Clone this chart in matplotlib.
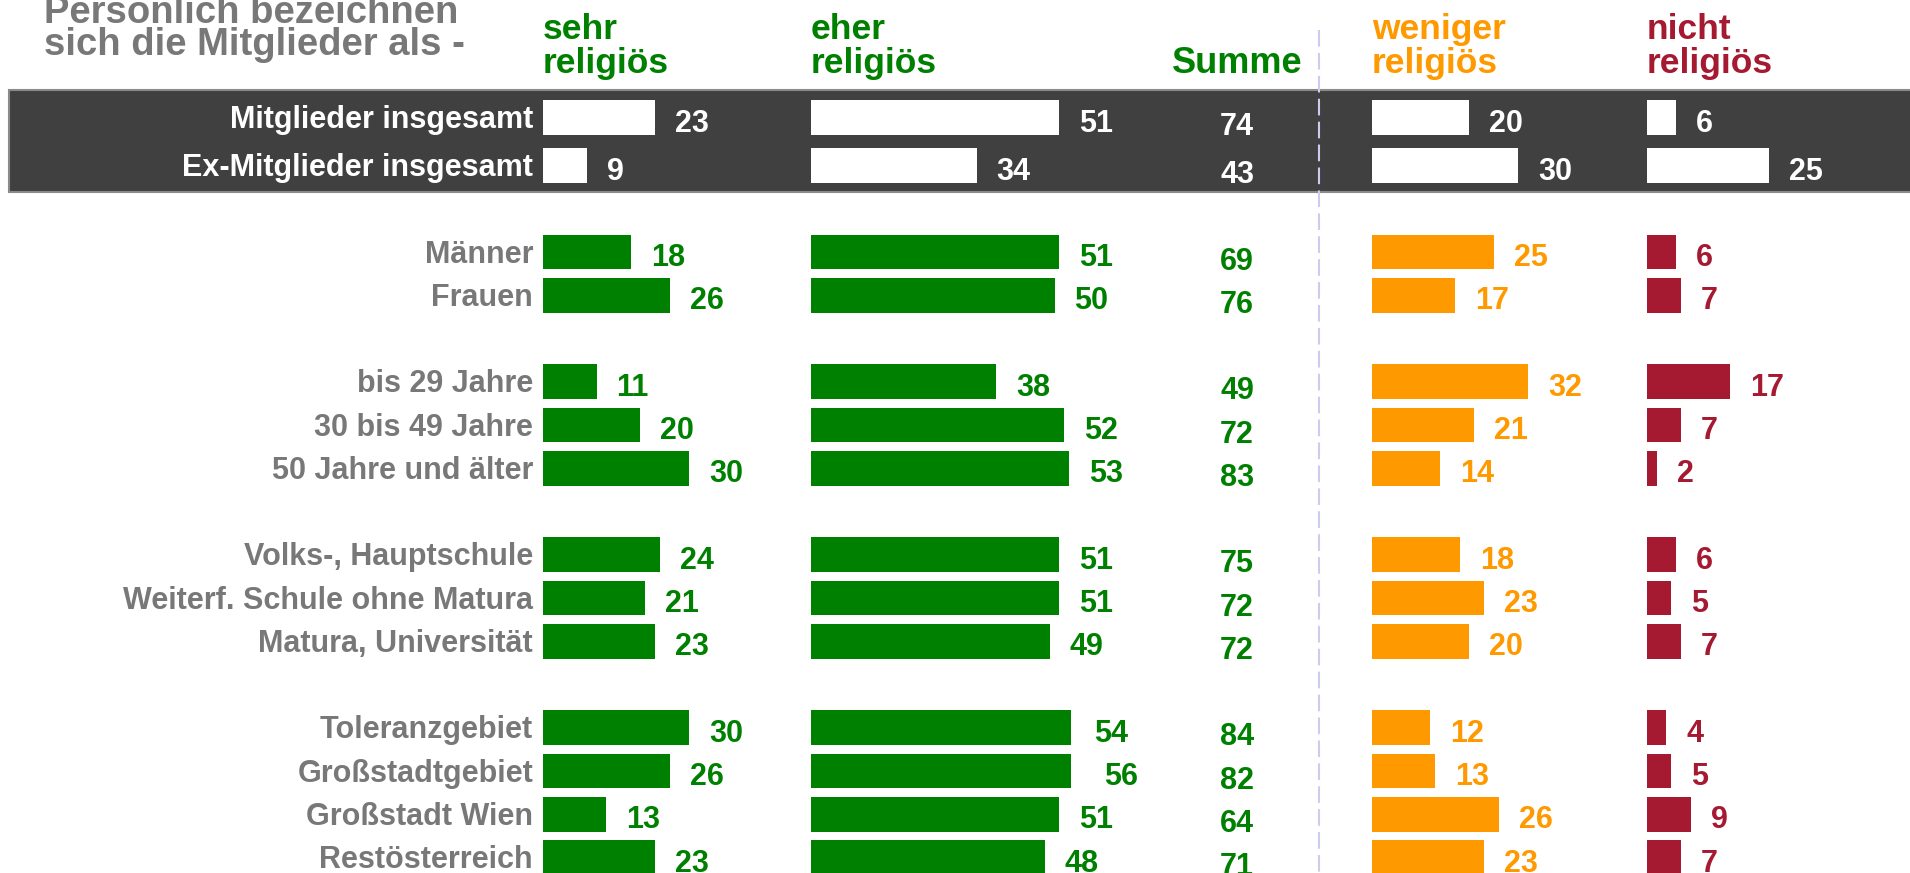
import matplotlib
matplotlib.use("Agg")
import matplotlib.pyplot as plt
from matplotlib.patches import Rectangle

plt.rcParams['font.family'] = ['Liberation Sans', 'DejaVu Sans']
plt.rcParams['font.weight'] = 'bold'

# data
labels = ["Mitglieder insgesamt", "Ex-Mitglieder insgesamt",
          "Männer", "Frauen",
          "bis 29 Jahre", "30 bis 49 Jahre", "50 Jahre und älter",
          "Volks-, Hauptschule", "Weiterf. Schule ohne Matura", "Matura, Universität",
          "Toleranzgebiet", "Großstadtgebiet", "Großstadt Wien", "Restösterreich"]
group_sizes = [2, 2, 3, 3, 4]
sehr = [23, 9, 18, 26, 11, 20, 30, 24, 21, 23, 30, 26, 13, 23]
eher = [51, 34, 51, 50, 38, 52, 53, 51, 51, 49, 54, 56, 51, 48]
summe = [74, 43, 69, 76, 49, 72, 83, 75, 72, 72, 84, 82, 64, 71]
weniger = [20, 30, 25, 17, 32, 21, 14, 18, 23, 20, 12, 13, 26, 23]
nicht = [6, 25, 6, 7, 17, 7, 2, 6, 5, 7, 4, 5, 9, 7]

title_lines = ["Persönlich bezeichnen", "sich die Mitglieder als -"]
col_titles = [["sehr", "religiös"], ["eher", "religiös"], ["weniger", "religiös"], ["nicht", "religiös"]]

GREEN = '#008000'
ORANGE = '#FF9900'
RED = '#A51931'
GRAY = '#787878'
BAND = '#404040'

W, H = 1910, 873
PX = 4.87          # pixel per percent
PITCH = 43.25      # pixel per row
ROW3 = 252         # pixel y of row 3

# row positions with a blank row between groups
rows = []
r = 0
for g in group_sizes:
    for i in range(g):
        rows.append(r)
        r += 1
    r += 1
rows[0] -= 0.11   # first total row sits a bit higher in the band

ytop = 3 - ROW3 / PITCH
ybot = 3 + (H - ROW3) / PITCH
def ypx(p):
    return 3 + (p - ROW3) / PITCH

fig = plt.figure(figsize=(W / 100, H / 100), dpi=100)
ax = fig.add_axes([0, 0, 1, 1])
ax.set_xlim(0, W)
ax.set_ylim(ybot, ytop)
ax.axis('off')

# dark band for totals
ax.add_patch(Rectangle((9, ypx(90)), W + 20, ypx(192) - ypx(90), facecolor=BAND,
                       edgecolor='#8a8a8a', linewidth=1.5, zorder=1, clip_on=True))

# dashed separator
ax.plot([1319, 1319], [ypx(30), ybot], color='#CCCCEE', linewidth=1.5,
        linestyle=(0, (8, 3)), zorder=3)

# title
for i, t in enumerate(title_lines):
    ax.text(44, ypx(23 + 32 * i), t, color=GRAY, fontsize=27.5, ha='left', va='baseline')

# row labels
for k, lab in enumerate(labels):
    c = 'white' if k < 2 else GRAY
    ax.text(533, rows[k] + 0.06, lab, color=c, fontsize=22, ha='right', va='center', zorder=4)

# columns
columns = [(543, sehr, GREEN, col_titles[0]),
           (811, eher, GREEN, col_titles[1]),
           (1372, weniger, ORANGE, col_titles[2]),
           (1647, nicht, RED, col_titles[3])]
for x0, vals, color, tt in columns:
    cax = fig.add_axes([x0 / W, 0, 260 / W, 1])
    cax.set_xlim(0, 260 / PX)
    cax.set_ylim(ybot, ytop)
    cax.axis('off')
    cols = ['white'] * 2 + [color] * (len(vals) - 2)
    cax.barh(rows, vals, height=0.8, color=cols, zorder=2)
    for k, v in enumerate(vals):
        cax.text(v + 20 / PX, rows[k] + 0.14, str(v), color=cols[k], fontsize=22,
                 ha='left', va='center', clip_on=False)
    for i, t in enumerate(tt):
        cax.text(0, ypx(39 + 34 * i), t, color=color, fontsize=25.5, ha='left', va='baseline')

# Summe column
ax.text(1237, ypx(73), "Summe", color=GREEN, fontsize=26, ha='center', va='baseline')
for k, v in enumerate(summe):
    c = 'white' if k < 2 else GREEN
    ax.text(1237, rows[k] + 0.22, str(v), color=c, fontsize=22, ha='center', va='center', zorder=4)

fig.savefig('out.png', dpi=100)
